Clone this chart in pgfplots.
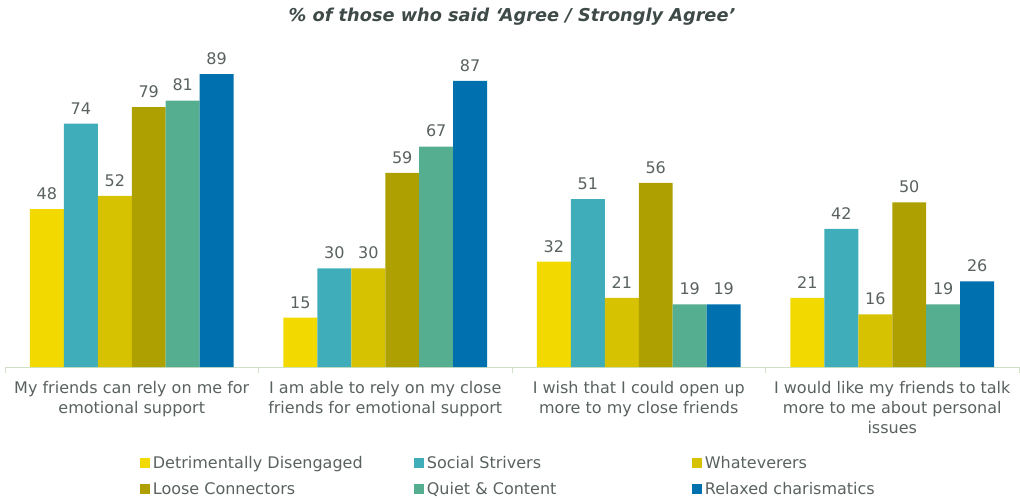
\documentclass[border=0pt]{standalone}
\usepackage{fontspec}
\setmainfont{DejaVu Sans}
\usepackage{pgfplots}
\pgfplotsset{compat=1.18}

\definecolor{cDD}{HTML}{F2D900}
\definecolor{cSS}{HTML}{40ADBB}
\definecolor{cWH}{HTML}{D6C200}
\definecolor{cLC}{HTML}{ADA000}
\definecolor{cQC}{HTML}{55AE90}
\definecolor{cRC}{HTML}{0071AE}
\definecolor{txt}{HTML}{59625F}
\definecolor{ttl}{HTML}{3E4A48}
\definecolor{axcol}{HTML}{D0E0C8}

\begin{document}
\begin{tikzpicture}
% picture frame: 1020x499 px, 1px = 0.75pt, axis origin at px (5,367)
\useasboundingbox (-3.75pt,-99pt) rectangle (761.25pt,275.25pt);
\begin{axis}[
  scale only axis,
  width=760.5pt, height=246.75pt,
  xmin=-0.5, xmax=3.5, ymin=0, ymax=100,
  axis y line=none, axis x line=bottom,
  x axis line style={-, draw=axcol, line width=0.75pt},
  ybar=0pt, bar width=0.134,
  xtick={0,1,2,3}, major tick length=0pt,
  xticklabels={{My friends can rely on me for\\emotional support},
               {I am able to rely on my close\\friends for emotional support},
               {I wish that I could open up\\more to my close friends},
               {I would like my friends to talk\\more to me about personal\\issues}},
  xticklabel style={align=center, font=\fontsize{12}{15}\selectfont, text=txt, anchor=north, yshift=-7.5pt},
  extra x ticks={-0.5,0.5,1.5,2.5,3.5}, extra x tick labels={},
  extra x tick style={major tick length=4.5pt, tick align=outside,
    tick style={draw=axcol, line width=0.75pt}},
  nodes near coords,
  every node near coord/.append style={font=\fontsize{12}{14}\selectfont, text=txt, yshift=3.5pt},
  /pgf/number format/assume math mode=true,
  title={\% of those who said ‘Agree / Strongly Agree’},
  title style={at={(0.5,1)}, anchor=center, yshift=10pt,
    font=\bfseries\itshape\fontsize{13.3}{15}\selectfont, text=ttl},
  legend columns=3,
  legend cell align=left,
  legend image code/.code={\draw[#1,draw=none,/tikz/.cd] (0pt,-3.75pt) rectangle (7.5pt,3.75pt);},
  legend style={at={(0.1331,-0.262)}, anchor=north west, draw=none, fill=none,
    inner sep=0pt, row sep=5pt, font=\fontsize{12}{14}\selectfont, text=txt},
  clip=false,
]
\addplot[fill=cDD, draw=none] coordinates {(0,48) (1,15) (2,32) (3,21)};
\addlegendentry{\makebox[194pt][l]{Detrimentally Disengaged}}
\addplot[fill=cSS, draw=none] coordinates {(0,74) (1,30) (2,51) (3,42)};
\addlegendentry{\makebox[197pt][l]{Social Strivers}}
\addplot[fill=cWH, draw=none] coordinates {(0,52) (1,30) (2,21) (3,16)};
\addlegendentry{Whateverers}
\addplot[fill=cLC, draw=none] coordinates {(0,79) (1,59) (2,56) (3,50)};
\addlegendentry{\makebox[194pt][l]{Loose Connectors}}
\addplot[fill=cQC, draw=none] coordinates {(0,81) (1,67) (2,19) (3,19)};
\addlegendentry{\makebox[197pt][l]{Quiet \& Content}}
\addplot[fill=cRC, draw=none] coordinates {(0,89) (1,87) (2,19) (3,26)};
\addlegendentry{Relaxed charismatics}
\end{axis}
\end{tikzpicture}
\end{document}
